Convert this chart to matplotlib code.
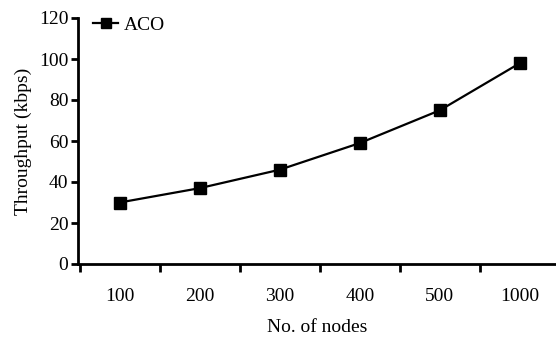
import matplotlib
matplotlib.use("Agg")
import matplotlib.pyplot as plt
from matplotlib.ticker import FixedLocator

categories = ["100", "200", "300", "400", "500", "1000"]
throughput = [30, 37, 46, 59, 75, 98]
series_name = "ACO"
y_ticks = [0, 20, 40, 60, 80, 100, 120]

plt.rcParams['font.family'] = ['Liberation Serif', 'DejaVu Serif']
FS = 14

fig = plt.figure(figsize=(5.56, 3.39), dpi=100)
ax = fig.add_axes([78/556, 75/339, 1 - 78/556, 246/339])

x = list(range(len(categories)))
ax.plot(x, throughput, color='black', lw=1.6, marker='s', markersize=8,
        label=series_name)

ax.set_xlim(-0.52, 5.45)
ax.set_ylim(0, 120)
ax.set_yticks(y_ticks)
ax.set_yticklabels([str(v) for v in y_ticks], fontsize=FS)
ax.set_xticks(x)
ax.set_xticklabels(categories, fontsize=FS)
ax.xaxis.set_minor_locator(FixedLocator([i - 0.5 for i in range(len(categories))]))
ax.tick_params(axis='x', which='major', length=0, pad=17)
ax.tick_params(axis='x', which='minor', length=6, width=2, direction='out')
ax.tick_params(axis='y', which='major', length=5, width=2, direction='out', pad=2)

for s in ['top', 'right']:
    ax.spines[s].set_visible(False)
for s in ['left', 'bottom']:
    ax.spines[s].set_linewidth(2)

ax.set_xlabel("No. of nodes", fontsize=FS, labelpad=10)
ax.set_ylabel("Throughput (kbps)", fontsize=FS, labelpad=5)

leg = ax.legend(loc='upper left', bbox_to_anchor=(0.015, 1.04), frameon=False,
                fontsize=FS, handlelength=1.3, markerscale=0.85,
                handletextpad=0.3, borderaxespad=0)

fig.savefig("out.png", dpi=100)
